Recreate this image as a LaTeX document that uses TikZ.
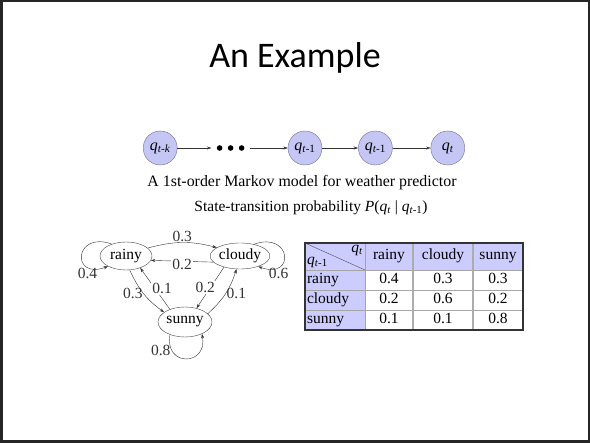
\documentclass[tikz,border=0pt]{standalone}
\usepackage{fontspec}
\setmainfont{Liberation Serif}
\newfontfamily\titlefont{Carlito}
\usetikzlibrary{arrows.meta, positioning, shapes.geometric}
\definecolor{statefill}{RGB}{198,198,245}
\definecolor{statedraw}{RGB}{110,110,150}
\definecolor{tabfill}{RGB}{204,204,255}
\newcommand{\qv}[1]{\textit{q}\textsubscript{#1}}

\begin{document}
\begin{tikzpicture}[
      x=1pt, y=1pt,
      font=\fontsize{15.5}{17}\selectfont,
      state/.style={circle, draw=statedraw, fill=statefill, minimum size=34pt,
        inner sep=0pt, font=\fontsize{16}{17}\selectfont},
      weather/.style={ellipse, draw=black!75, thin, inner sep=0pt},
      prob/.style={inner sep=1pt},
      cell/.style={rectangle, draw=gray!70, outer sep=0pt, inner sep=2pt,
        text height=10pt, text depth=3pt},
      rowhead/.style={cell, fill=tabfill, text width=56pt, align=left,
        minimum height=20pt},
      arrow/.style={-{Stealth[length=4.5pt, width=3pt]}, thin, black!80}
    ]
    \useasboundingbox (0,0) rectangle (590,-443);
    \draw[line width=2.5pt, black!85] (1.25,-1.25) rectangle (588.75,-441.75);

    \node[font=\titlefont\fontsize{36}{40}\selectfont, anchor=base] (title)
      at (295,-68) {An Example};

    % ---- Markov chain ----
    \node[state] (q1) at (305,-148) {\qv{\textit{t}-1}};
    \node[state, right=36pt of q1] (q2) {\qv{\textit{t}-1}};
    \node[state, right=38pt of q2] (q3) {\qv{\textit{t}}};
    \node[minimum width=38pt, minimum height=6pt, inner sep=0pt,
      left=38pt of q1] (dots) {};
    \node[state, left=34pt of dots] (qk) {\qv{\textit{t}-\textit{k}}};
    \foreach \dx in {-11,0,11} \fill (dots.center) ++(\dx,0) circle (2.8pt);

    \draw[arrow] (qk)   -- (dots);
    \draw[arrow] (dots) -- (q1);
    \draw[arrow] (q1)   -- (q2);
    \draw[arrow] (q2)   -- (q3);

    \node[font=\fontsize{15.9}{17}\selectfont] (caption) at (302,-183)
      {A 1st-order Markov model for weather predictor};
    \node (ptitle) at (311,-208)
      {State-transition probability \textit{P}(\qv{\textit{t}} | \qv{\textit{t}-1})};

    % ---- transition graph ----
    \node[weather, minimum width=52pt, minimum height=28pt] (rainy)  at (126,-256) {rainy};
    \node[weather, minimum width=47pt, minimum height=26pt] (cloudy) at (240,-256) {cloudy};
    \node[weather, minimum width=54pt, minimum height=30pt] (sunny)  at (185,-322) {sunny};

    \draw[arrow] (rainy.20) to[bend left=15] node[prob, above] {0.3} (cloudy.160);
    \draw[arrow] (cloudy.193) -- node[prob, fill=white, yshift=-3pt] {0.2} (rainy.350);
    \draw[arrow] (rainy.285) to[bend right=15] node[prob, left] {0.3} (sunny.155);
    \draw[arrow] (sunny.140) -- node[prob, fill=white, xshift=7pt] {0.1} (rainy.320);
    \draw[arrow] (cloudy.215) -- node[prob, fill=white, xshift=-5pt] {0.2} (sunny.50);
    \draw[arrow] (sunny.20) to[bend right=15] node[prob, right] {0.1} (cloudy.255);

    % self loops
    \draw[arrow] (rainy.140) .. controls +(160:40) and +(200:40) .. (rainy.210)
      node[prob, below, pos=0.75] {0.4};
    \draw[arrow] (cloudy.40) .. controls +(20:40) and +(-20:40) .. (cloudy.-30)
      node[prob, below, pos=0.75] {0.6};
    \draw[arrow] (sunny.220) .. controls +(260:33) and +(280:33) .. (sunny.-35)
      node[prob, left, pos=0.2] {0.8};

    % ---- transition table ----
    \node[cell, fill=tabfill, minimum width=60pt, minimum height=27pt,
      anchor=north west] (corner) at (305,-243) {};
    \node[cell, fill=tabfill, minimum width=48pt, minimum height=27pt,
      right=0pt of corner] (hrainy) {rainy};
    \node[cell, fill=tabfill, minimum width=60pt, minimum height=27pt,
      right=0pt of hrainy] (hcloudy) {cloudy};
    \node[cell, fill=tabfill, minimum width=50pt, minimum height=27pt,
      right=0pt of hcloudy] (hsunny) {sunny};

    \node[rowhead, below=0pt of corner] (rrainy)  {rainy};
    \node[rowhead, below=0pt of rrainy] (rcloudy) {cloudy};
    \node[rowhead, below=0pt of rcloudy] (rsunny) {sunny};

    \node[cell, minimum width=48pt, minimum height=20pt, right=0pt of rrainy] (p11) {0.4};
    \node[cell, minimum width=60pt, minimum height=20pt, right=0pt of p11]    (p12) {0.3};
    \node[cell, minimum width=50pt, minimum height=20pt, right=0pt of p12]    (p13) {0.3};
    \node[cell, minimum width=48pt, minimum height=20pt, right=0pt of rcloudy] (p21) {0.2};
    \node[cell, minimum width=60pt, minimum height=20pt, right=0pt of p21]    (p22) {0.6};
    \node[cell, minimum width=50pt, minimum height=20pt, right=0pt of p22]    (p23) {0.2};
    \node[cell, minimum width=48pt, minimum height=20pt, right=0pt of rsunny] (p31) {0.1};
    \node[cell, minimum width=60pt, minimum height=20pt, right=0pt of p31]    (p32) {0.1};
    \node[cell, minimum width=50pt, minimum height=20pt, right=0pt of p32]    (p33) {0.8};

    % heavier separators between the data columns
    \draw[line width=1.2pt, gray!65] (hcloudy.north west) -- (p32.south west);
    \draw[line width=1.2pt, gray!65] (hsunny.north west)  -- (p33.south west);

    \draw[gray!60!black] (corner.north west) -- (corner.south east);
    \node[anchor=north east, inner sep=2pt] (qnow)  at (corner.north east) {\qv{\textit{t}}};
    \node[anchor=south west, inner sep=2pt] (qprev) at (corner.south west) {\qv{\textit{t}-1}};
    \draw[line width=1.2pt, black!80] (corner.north west) rectangle (p33.south east);
  \end{tikzpicture}
\end{document}
